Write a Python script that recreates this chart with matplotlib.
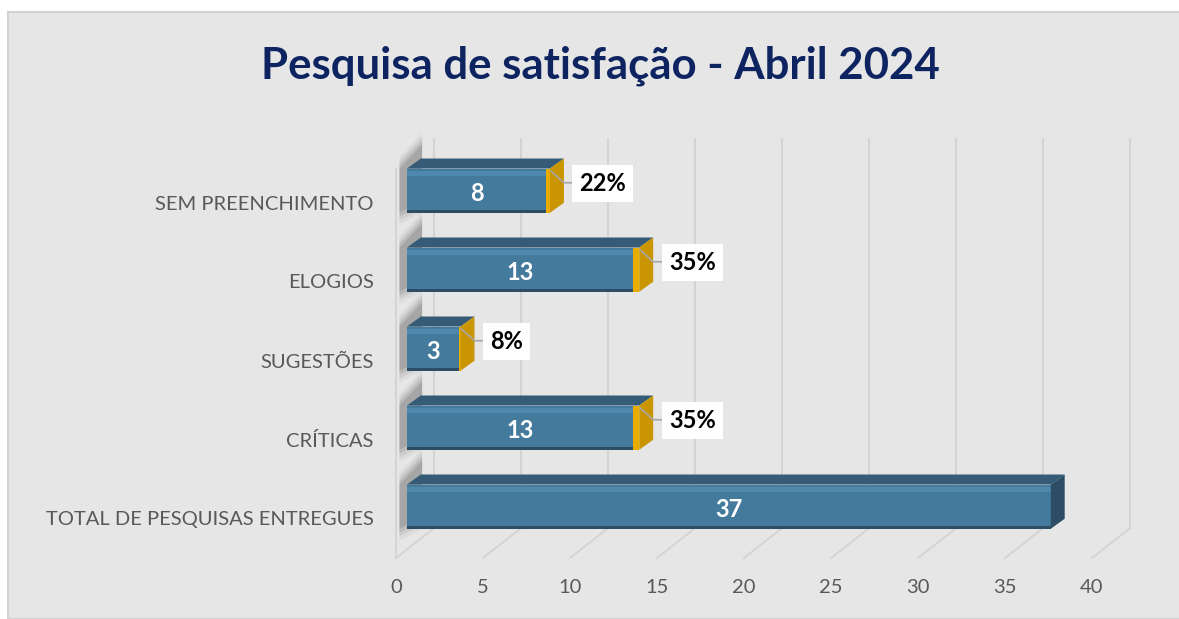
import numpy as np
import matplotlib.pyplot as plt
from matplotlib.patches import Polygon, Rectangle

plt.rcParams['font.family'] = ['Lato', 'DejaVu Sans']

# dados
categorias = ['TOTAL DE PESQUISAS ENTREGUES', 'CRÍTICAS', 'SUGESTÕES', 'ELOGIOS', 'SEM PREENCHIMENTO']
valores = [37, 13, 3, 13, 8]
percentuais = [0, 0.35, 0.08, 0.35, 0.22]
rotulos_pct = ['', '35%', '8%', '35%', '22%']
ticks_x = [0, 5, 10, 15, 20, 25, 30, 35, 40]
titulo = 'Pesquisa de satisfação - Abril 2024'

# cores
azul = '#447a9c'
azul_claro = '#4f88ad'
azul_topo = '#355b76'
azul_lado = '#2c4d64'
ouro = '#e8ad00'
ouro_lado = '#c99500'
cinza_txt = '#595959'
grade = '#d3d3d3'

W, H = 1179, 619
fig = plt.figure(figsize=(W / 100, H / 100), dpi=100)
fig.patch.set_facecolor('white')
fig.patches.append(Rectangle((8 / W, 0), 1, (H - 12) / H, transform=fig.transFigure,
                             facecolor='#e6e6e6', edgecolor='#d2d2d2', lw=1.5, zorder=-10))

ax = fig.add_axes([396 / W, (H - 558) / H, 696 / W, 395 / H])
ax.set_zorder(5)
ax.set_xlim(0, 40)
ax.set_ylim(-0.5, 4.5)
ax.patch.set_alpha(0)
for s in ax.spines.values():
    s.set_visible(False)

# profundidade (oblíqua) em unidades de dados
prof_x, prof_y = 2.2, 0.38        # parede/piso
desl_x, desl_y = 0.63, 0.15       # face frontal das barras
barra_x, barra_y = 0.80, 0.127    # espessura das barras
alt = 0.56
y0 = -0.5
ytop = 4.42

# paredes e grade
for xv in ticks_x:
    ax.plot([xv, xv + prof_x], [y0, y0 + prof_y], color=grade, lw=1.3, clip_on=False, zorder=1)
    ax.plot([xv + prof_x, xv + prof_x], [y0 + prof_y, ytop + prof_y], color=grade, lw=1.5,
            clip_on=False, zorder=1)
ax.plot([0, 0], [y0, ytop], color=grade, lw=1.3, clip_on=False, zorder=1)

# sombras na parede esquerda
ypos = np.arange(len(categorias))
for yc in ypos:
    yb = yc + desl_y
    for k, a in enumerate([0.06, 0.09, 0.13, 0.16]):
        e = 0.05 * (3 - k)
        poly = Polygon([(0.2, yb - alt / 2 - e), (0.2, yb + alt / 2 + e),
                        (1.5, yb + alt / 2 + 0.3 + e), (1.5, yb - alt / 2 + 0.15 - e)],
                       closed=True, facecolor='#404040', alpha=a, lw=0, clip_on=False, zorder=2)
        ax.add_patch(poly)

# barras
yf = ypos + desl_y
ax.barh(yf, valores, height=alt, left=desl_x, color=azul, zorder=4, clip_on=False)
ax.barh(yf + alt / 2 - 0.06, valores, height=0.07, left=desl_x, color=azul_claro, zorder=4,
        clip_on=False)
ax.barh(yf - alt / 2 + 0.015, valores, height=0.03, left=desl_x, color=azul_lado, zorder=4,
        clip_on=False)
ends = np.array(valores) + desl_x
ax.barh(yf, percentuais, height=alt, left=ends, color=ouro, zorder=4, clip_on=False)

for i, (v, p) in enumerate(zip(valores, percentuais)):
    x0 = desl_x
    x1 = desl_x + v + p
    yt = yf[i] + alt / 2
    yb = yf[i] - alt / 2
    topo = Polygon([(x0, yt), (x0 + barra_x, yt + barra_y), (x1 + barra_x, yt + barra_y), (x1, yt)],
                   closed=True, facecolor=azul_topo, edgecolor='none', zorder=3, clip_on=False)
    ax.add_patch(topo)
    lado = Polygon([(x1, yt), (x1 + barra_x, yt + barra_y), (x1 + barra_x, yb + barra_y), (x1, yb)],
                   closed=True, facecolor=ouro_lado if p > 0 else azul_lado, edgecolor='none',
                   zorder=5, clip_on=False)
    ax.add_patch(lado)
    ax.text(desl_x + v / 2, yf[i] - 0.03, str(v), ha='center', va='center', color='white',
            fontsize=17, fontweight='bold', zorder=6)
    if p > 0:
        xb = x1 + 1.35
        ax.plot([x1 + 0.05, x1 + 0.8, xb], [yt - 0.03, yf[i] + 0.1, yf[i] + 0.1], color='#a6a6a6',
                lw=1.2, zorder=6, clip_on=False)
        ax.text(xb + 0.35, yf[i] + 0.09, rotulos_pct[i], ha='left', va='center', color='black',
                fontsize=17, fontweight='bold', zorder=7,
                bbox=dict(boxstyle='square,pad=0.3', facecolor='white', edgecolor='none'))

ax.set_xticks(ticks_x)
ax.set_xticklabels([str(t) for t in ticks_x])
ax.set_yticks(ypos)
ax.set_yticklabels(categorias)
ax.tick_params(axis='x', length=0, pad=15, labelsize=14.5, labelcolor=cinza_txt)
ax.tick_params(axis='y', length=0, pad=16, labelsize=14.5, labelcolor=cinza_txt)

fig.text(600 / W, 1 - 66 / H, titulo, ha='center', va='center', fontsize=31.5, fontweight='bold',
         color='#0d2461')

fig.savefig('out.png', dpi=100)
